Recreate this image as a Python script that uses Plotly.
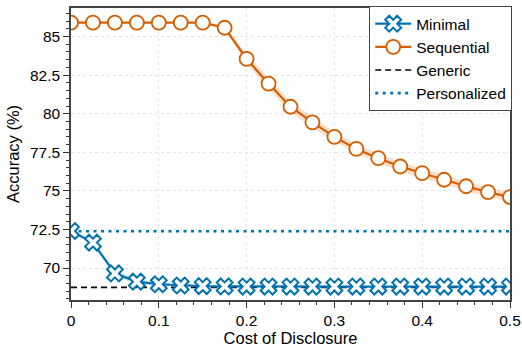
import plotly.graph_objects as go

cost = [0, 0.025, 0.05, 0.075, 0.1, 0.125, 0.15, 0.175, 0.2, 0.225, 0.25,
        0.275, 0.3, 0.325, 0.35, 0.375, 0.4, 0.425, 0.45, 0.475, 0.5]
minimal = [72.4, 71.65, 69.65, 69.12, 68.95, 68.87, 68.83, 68.81, 68.8, 68.8, 68.8,
           68.8, 68.8, 68.8, 68.8, 68.8, 68.8, 68.8, 68.8, 68.8, 68.8]
minimal_err = [0.05, 0.1, 0.2, 0.15, 0.1, 0.06, 0.04, 0.03, 0.02, 0.02, 0.02,
               0.02, 0.02, 0.02, 0.02, 0.02, 0.02, 0.02, 0.02, 0.02, 0.02]
sequential = [85.9, 85.9, 85.9, 85.9, 85.9, 85.9, 85.9, 85.57, 83.55, 81.95, 80.45,
              79.44, 78.5, 77.72, 77.12, 76.58, 76.15, 75.72, 75.3, 74.92, 74.6]
sequential_err = [0.02, 0.02, 0.02, 0.02, 0.02, 0.02, 0.05, 0.1, 0.3, 0.35, 0.35,
                  0.35, 0.3, 0.3, 0.3, 0.3, 0.3, 0.3, 0.3, 0.3, 0.3]
generic = 68.75
personalized = 72.38

x_ticks = [0, 0.1, 0.2, 0.3, 0.4, 0.5]
x_labels = ["0", "0.1", "0.2", "0.3", "0.4", "0.5"]
y_ticks = [70, 72.5, 75, 77.5, 80, 82.5, 85]
y_labels = ["70", "72.5", "75", "77.5", "80", "82.5", "85"]

BLUE = "#0072B2"
ORANGE = "#D55E00"

fig = go.Figure()

def band(x, y, e, color):
    up = [a + b for a, b in zip(y, e)]
    lo = [a - b for a, b in zip(y, e)]
    fig.add_trace(go.Scatter(x=x + x[::-1], y=up + lo[::-1], fill="toself",
                             fillcolor=color, line=dict(width=0), mode="lines",
                             showlegend=False, hoverinfo="skip"))

band(cost, sequential, sequential_err, "rgba(213,94,0,0.2)")
band(cost, minimal, minimal_err, "rgba(0,114,178,0.2)")

fig.add_trace(go.Scatter(x=[0, 0.5], y=[generic, generic], mode="lines", name="Generic",
                         legendrank=3,
                         line=dict(color="black", width=1.6, dash="6px,4px")))
fig.add_trace(go.Scatter(x=[0, 0.5], y=[personalized, personalized], mode="lines",
                         name="Personalized", legendrank=4,
                         line=dict(color=BLUE, width=2.6, dash="3px,4.5px")))
fig.add_trace(go.Scatter(x=cost, y=minimal, mode="lines+markers", name="Minimal",
                         legendrank=1,
                         line=dict(color=BLUE, width=2.2),
                         marker=dict(symbol="x", size=14, color="white",
                                     line=dict(color=BLUE, width=2))))
fig.add_trace(go.Scatter(x=cost, y=sequential, mode="lines+markers", name="Sequential",
                         legendrank=2,
                         line=dict(color=ORANGE, width=2.2),
                         marker=dict(symbol="circle", size=14, color="white",
                                     line=dict(color=ORANGE, width=1.8))))

fig.update_layout(
    width=522, height=349,
    margin=dict(l=71, r=12, t=7, b=49),
    plot_bgcolor="white", paper_bgcolor="white",
    font=dict(family="Liberation Sans, Arial, sans-serif", size=15.5, color="black"),
    legend=dict(x=1.005, y=1.003, xanchor="right", yanchor="top",
                traceorder="normal", bordercolor="#444", borderwidth=1,
                bgcolor="white", font=dict(size=15.5), tracegroupgap=0,
                itemwidth=36),
    showlegend=True,
)

fig.update_xaxes(range=[0, 0.5], tickvals=x_ticks, ticktext=x_labels,
                 ticks="outside", ticklen=6, tickwidth=1, tickcolor="#333",
                 tickfont=dict(size=15.5),
                 minor=dict(dtick=0.02, ticks="outside", ticklen=3.5, tickcolor="#333",
                            showgrid=False),
                 showline=True, linecolor="#444", linewidth=1.5, mirror=True,
                 showgrid=True, gridcolor="#e3e3e3", griddash="dot", gridwidth=1,
                 zeroline=False, automargin=False,
                 title=dict(text="Cost of Disclosure", standoff=4, font=dict(size=16.5)))
fig.update_yaxes(range=[67.93, 86.85], tickvals=y_ticks, ticktext=y_labels,
                 ticks="outside", ticklen=6, tickwidth=1, tickcolor="#333",
                 tickfont=dict(size=15.5),
                 minor=dict(dtick=0.5, tick0=0, ticks="outside", ticklen=3.5,
                            tickcolor="#333", showgrid=False),
                 showline=True, linecolor="#444", linewidth=1.5, mirror=True,
                 showgrid=True, gridcolor="#e3e3e3", griddash="dot", gridwidth=1,
                 zeroline=False, automargin=False,
                 title=dict(text="Accuracy (%)", standoff=6, font=dict(size=16.5)))

fig.write_html("out.html", config={"displayModeBar": False},
               post_script="document.body.style.margin='0';document.body.style.overflow='hidden';")
